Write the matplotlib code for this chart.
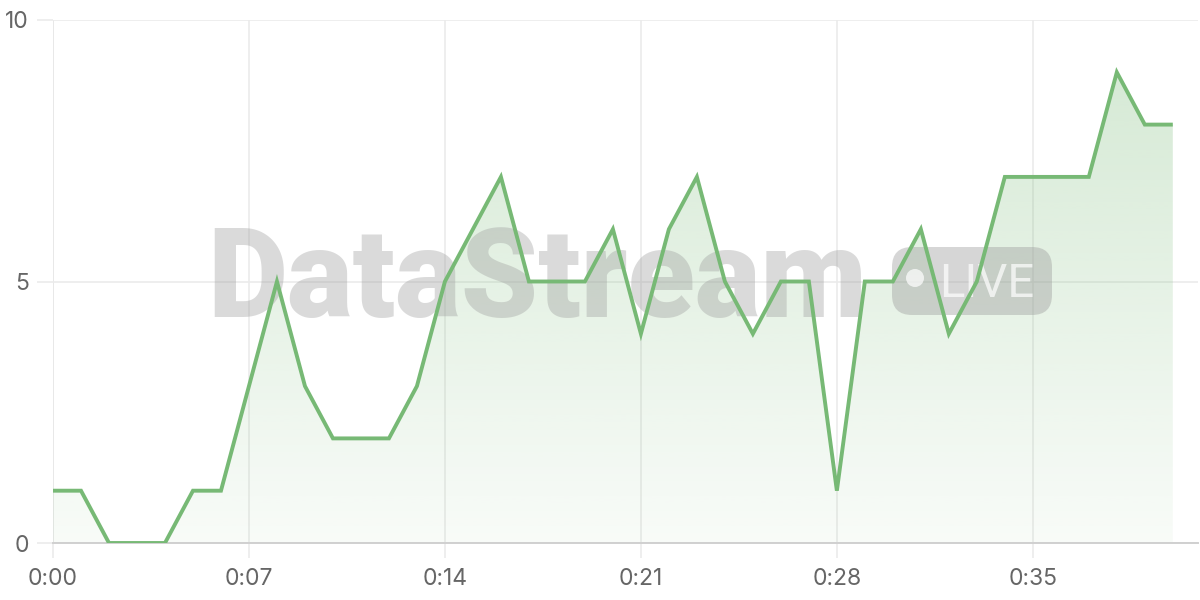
import numpy as np
import matplotlib
matplotlib.use("Agg")
import matplotlib.pyplot as plt
from matplotlib.patches import FancyBboxPatch, Circle
from matplotlib.transforms import IdentityTransform

# ---- data ----
seconds = list(range(41))
values = [1, 1, 0, 0, 0, 1, 1, 3, 5, 3, 2, 2, 2, 3, 5, 6, 7, 5, 5, 5,
          6, 4, 6, 7, 5, 4, 5, 5, 1, 5, 5, 6, 4, 5, 7, 7, 7, 7, 9, 8, 8]
x_ticks = [0, 7, 14, 21, 28, 35]
x_tick_labels = ["0:00", "0:07", "0:14", "0:21", "0:28", "0:35"]
y_ticks = [0, 5, 10]
y_tick_labels = ["0", "5", "10"]

LINE = "#77b975"
GRID = "#ebebeb"
TXT = "#666666"

plt.rcParams['font.family'] = ['Inter', 'DejaVu Sans']

fig = plt.figure(figsize=(12, 6), dpi=100)
ax = fig.add_axes([53/1200, 57/600, (1198-53)/1200, (543-20)/600])

x = np.array(seconds, dtype=float)
y = np.array(values, dtype=float)

# gradient fill under the line
ymax = y.max()
n = 256
alphas = np.linspace(0.05, 0.30, n)
rgb = matplotlib.colors.to_rgb(LINE)
grad = np.zeros((n, 1, 4))
grad[:, 0, 0] = rgb[0]
grad[:, 0, 1] = rgb[1]
grad[:, 0, 2] = rgb[2]
grad[:, 0, 3] = alphas
poly = ax.fill_between(x, y, 0, facecolor='none', edgecolor='none')
im = ax.imshow(grad, extent=[x.min(), x.max(), 0, ymax], origin='lower',
               aspect='auto', zorder=1, interpolation='bilinear')
im.set_clip_path(poly.get_paths()[0], transform=ax.transData)

ax.plot(x, y, color=LINE, lw=2.8, zorder=4, solid_joinstyle='miter',
        solid_capstyle='butt')

# axes styling
ax.set_xlim(0, 40.9)
ax.set_ylim(0, 10)
ax.set_xticks(x_ticks)
ax.set_xticklabels(x_tick_labels)
ax.set_yticks(y_ticks)
ax.set_yticklabels(y_tick_labels)
ax.grid(True, color=GRID, lw=1.2, zorder=0)
ax.set_axisbelow(True)
for s in ['top', 'right', 'left']:
    ax.spines[s].set_visible(False)
ax.spines['bottom'].set_color('#d0d0d0')
ax.spines['bottom'].set_linewidth(1.4)
ax.spines['bottom'].set_zorder(3)
ax.axvline(0, color='#dcdcdc', lw=1.4, zorder=0.5)
ax.tick_params(axis='both', colors=GRID, width=1.2, labelcolor=TXT,
               labelsize=16.5)
ax.tick_params(axis='x', length=11, pad=7)
ax.tick_params(axis='y', length=11.5, pad=6)

# watermark
ax.text(207/1200, 1 - 317/600, "DataStream", transform=fig.transFigure,
        fontsize=89, fontweight='black', family=['Roboto', 'DejaVu Sans'],
        color='#9a9a9a', alpha=0.36, ha='left', va='baseline', zorder=2.5,
        clip_on=False)
badge = FancyBboxPatch((892, 600 - 315), 1052 - 892, 315 - 247,
                       boxstyle="round,pad=0,rounding_size=20",
                       transform=IdentityTransform(), facecolor='#9a9a9a',
                       edgecolor='none', alpha=0.4, zorder=2.5, clip_on=False)
ax.add_artist(badge)
dot = Circle((915, 600 - 278), 9, transform=IdentityTransform(),
             facecolor='white', edgecolor='none', alpha=0.7, zorder=2.6,
             clip_on=False)
ax.add_artist(dot)
ax.text(939/1200, 1 - 297/600, "LIVE", transform=fig.transFigure,
        fontsize=34, family=['Roboto', 'DejaVu Sans'], color='white',
        alpha=0.7, ha='left', va='baseline', zorder=2.6, clip_on=False)

fig.savefig("out.png", dpi=100, facecolor='white')
